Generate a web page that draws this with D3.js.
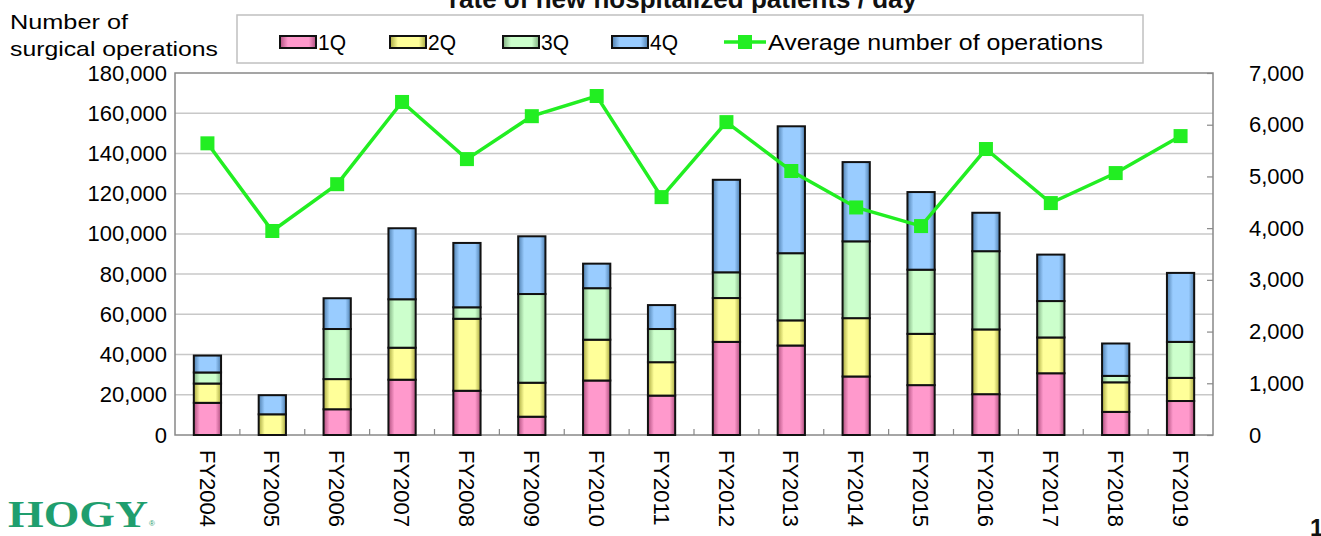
<!DOCTYPE html>
<html><head><meta charset="utf-8">
<script src="https://cdn.jsdelivr.net/npm/d3@7"></script>
<style>
body{margin:0;background:#fff;}
svg{display:block;}
</style></head>
<body>
<svg id="chart" width="1321" height="536"></svg>
<script>
const categories = ["FY2004","FY2005","FY2006","FY2007","FY2008","FY2009","FY2010","FY2011","FY2012","FY2013","FY2014","FY2015","FY2016","FY2017","FY2018","FY2019"];
// quarterly surgical operations (per-quarter counts)
const q1 = [16000, 0, 12800, 27500, 22000, 9100, 27100, 19600, 46300, 44500, 29100, 24800, 20300, 30700, 11500, 16900];
const q2 = [9600, 10300, 15000, 15900, 35800, 16900, 20300, 16600, 21800, 12500, 29000, 25500, 32200, 17800, 14700, 11500];
const q3 = [5500, 0, 24900, 24100, 5700, 44100, 25600, 16500, 12800, 33400, 38200, 31900, 38900, 18100, 3200, 17900];
const q4 = [8400, 9500, 15300, 35300, 32000, 28700, 12200, 11900, 46000, 63100, 39400, 38600, 19100, 23100, 16100, 34300];
const avgOps = [5640, 3945, 4850, 6440, 5335, 6165, 6555, 4600, 6050, 5105, 4400, 4040, 5530, 4485, 5065, 5780];
const seriesNames = ["1Q","2Q","3Q","4Q"];
const lineName = "Average number of operations";
const leftTicks = [0,20000,40000,60000,80000,100000,120000,140000,160000,180000];
const rightTicks = [0,1000,2000,3000,4000,5000,6000,7000];

const colors = ["#ff99cc","#ffff99","#ccffcc","#99ccff"];
const darks = ["#b0507f","#a8a840","#7fae7f","#4f7fae"];
const lineColor = "#22ee22";

const svg = d3.select("#chart");
const M = {left:175, right:1213, top:73, bottom:435};

const defs = svg.append("defs");
colors.forEach((c,i)=>{
  const g = defs.append("linearGradient").attr("id","g"+i).attr("x1","0").attr("x2","1").attr("y1","0").attr("y2","0");
  g.append("stop").attr("offset","0%").attr("stop-color",darks[i]);
  g.append("stop").attr("offset","22%").attr("stop-color",c);
  g.append("stop").attr("offset","80%").attr("stop-color",c);
  g.append("stop").attr("offset","100%").attr("stop-color",darks[i]);
});

const x = d3.scaleBand().domain(categories).range([M.left, M.right]).paddingInner(0.58).paddingOuter(0.29);
const y = d3.scaleLinear().domain([0,180000]).range([M.bottom, M.top]);
const y2 = d3.scaleLinear().domain([0,7000]).range([M.bottom, M.top]);

const sans = "Liberation Sans, Arial, sans-serif";

// Title (cut off at top)
svg.append("text").attr("x",683).attr("y",8).attr("text-anchor","middle")
  .attr("font-family",sans).attr("font-weight","bold").attr("font-size",26)
  .attr("fill","#111").text("rate of new hospitalized patients / day");

// gridlines
svg.append("g").selectAll("line").data(leftTicks.filter(d=>d>0 && d<180000)).join("line")
  .attr("x1",M.left).attr("x2",M.right).attr("y1",d=>y(d)).attr("y2",d=>y(d))
  .attr("stroke","#c8c8c8").attr("stroke-width",1.5);

// plot frame
svg.append("rect").attr("x",M.left).attr("y",M.top).attr("width",M.right-M.left).attr("height",M.bottom-M.top)
  .attr("fill","none").attr("stroke","#888").attr("stroke-width",1.5);

// left axis labels
const ya = svg.append("g").attr("transform",`translate(${M.left},0)`)
  .call(d3.axisLeft(y).tickValues(leftTicks).tickFormat(d3.format(",")).tickSize(0).tickPadding(8));
ya.select(".domain").remove();
ya.selectAll("text").attr("font-family",sans).attr("font-size",22).attr("fill","#000");

// right axis
const yb = svg.append("g").attr("transform",`translate(${M.right},0)`)
  .call(d3.axisRight(y2).tickValues(rightTicks).tickFormat(d3.format(",")).tickSize(-6).tickPadding(36));
yb.select(".domain").remove();
yb.selectAll("line").attr("stroke","#888").attr("stroke-width",1.2);
yb.selectAll("text").attr("font-family",sans).attr("font-size",22).attr("fill","#000");

// x category boundary ticks
const step = x.step();
const gap = (step - x.bandwidth())/2;
svg.append("g").selectAll("line").data(categories.slice(1)).join("line")
  .attr("x1",d=>x(d)-gap).attr("x2",d=>x(d)-gap)
  .attr("y1",M.bottom).attr("y2",M.bottom-6)
  .attr("stroke","#888").attr("stroke-width",1.2);

// stacked bars
const table = categories.map((c,i)=>({cat:c, "1Q":q1[i], "2Q":q2[i], "3Q":q3[i], "4Q":q4[i]}));
const stack = d3.stack().keys(seriesNames)(table);
const gb = svg.append("g");
stack.forEach((s,si)=>{
  gb.append("g").selectAll("rect").data(s.filter(d=>d[1]-d[0]>0)).join("rect")
    .attr("x",d=>x(d.data.cat)).attr("width",x.bandwidth())
    .attr("y",d=>y(d[1])).attr("height",d=>y(d[0])-y(d[1]))
    .attr("fill",`url(#g${si})`).attr("stroke","#111").attr("stroke-width",2);
});

// line
const cx = d=>x(d)+x.bandwidth()/2;
const line = d3.line().x((d,i)=>cx(categories[i])).y(d=>y2(d));
svg.append("path").datum(avgOps).attr("d",line).attr("fill","none").attr("stroke",lineColor).attr("stroke-width",3.5);
svg.append("g").selectAll("rect").data(avgOps).join("rect")
  .attr("x",(d,i)=>cx(categories[i])-7).attr("y",d=>y2(d)-7).attr("width",14).attr("height",14).attr("fill",lineColor);

// x labels rotated
svg.append("g").selectAll("text").data(categories).join("text")
  .attr("transform",d=>`translate(${cx(d)},450) rotate(90)`)
  .attr("dy","0.36em").attr("text-anchor","start")
  .attr("font-family",sans).attr("font-size",22).attr("fill","#000")
  .text(d=>d);

// y axis title
svg.append("text").attr("x",10).attr("y",29).attr("font-family",sans).attr("font-size",21).attr("fill","#000")
  .attr("textLength",118).attr("lengthAdjust","spacingAndGlyphs").text("Number of");
svg.append("text").attr("x",10).attr("y",56).attr("font-family",sans).attr("font-size",21).attr("fill","#000")
  .attr("textLength",208).attr("lengthAdjust","spacingAndGlyphs").text("surgical operations");

// legend
svg.append("rect").attr("x",237).attr("y",15).attr("width",906).attr("height",48).attr("fill","#fff").attr("stroke","#c0c0c0").attr("stroke-width",1.5);
const legX = [280,390,503,612];
seriesNames.forEach((n,i)=>{
  svg.append("rect").attr("x",legX[i]).attr("y",36).attr("width",36).attr("height",12)
    .attr("fill",`url(#g${i})`).attr("stroke","#111").attr("stroke-width",2);
  svg.append("text").attr("x",legX[i]+38).attr("y",50).attr("font-family",sans).attr("font-size",22).attr("fill","#000")
    .attr("textLength",28).attr("lengthAdjust","spacingAndGlyphs").text(n);
});
svg.append("line").attr("x1",724).attr("x2",766).attr("y1",42).attr("y2",42).attr("stroke",lineColor).attr("stroke-width",3.5);
svg.append("rect").attr("x",738).attr("y",35).attr("width",14).attr("height",14).attr("fill",lineColor);
svg.append("text").attr("x",768).attr("y",50).attr("font-family",sans).attr("font-size",22).attr("fill","#000")
  .attr("textLength",335).attr("lengthAdjust","spacingAndGlyphs").text(lineName);

// logo
svg.append("text").attr("x",8).attr("y",527).attr("font-family","'Liberation Serif', 'DejaVu Serif', serif").attr("font-weight","bold")
  .attr("font-size",38).attr("fill","#1f9e6e").attr("textLength",140).attr("lengthAdjust","spacingAndGlyphs").text("HOGY");
svg.append("text").attr("x",149).attr("y",526).attr("font-family",sans).attr("font-size",8).attr("fill","#1f9e6e").text("®");

// page number cut off
svg.append("text").attr("x",1310).attr("y",536).attr("font-family",sans).attr("font-weight","bold").attr("font-size",24).attr("fill","#111").text("1");
</script>
</body></html>
